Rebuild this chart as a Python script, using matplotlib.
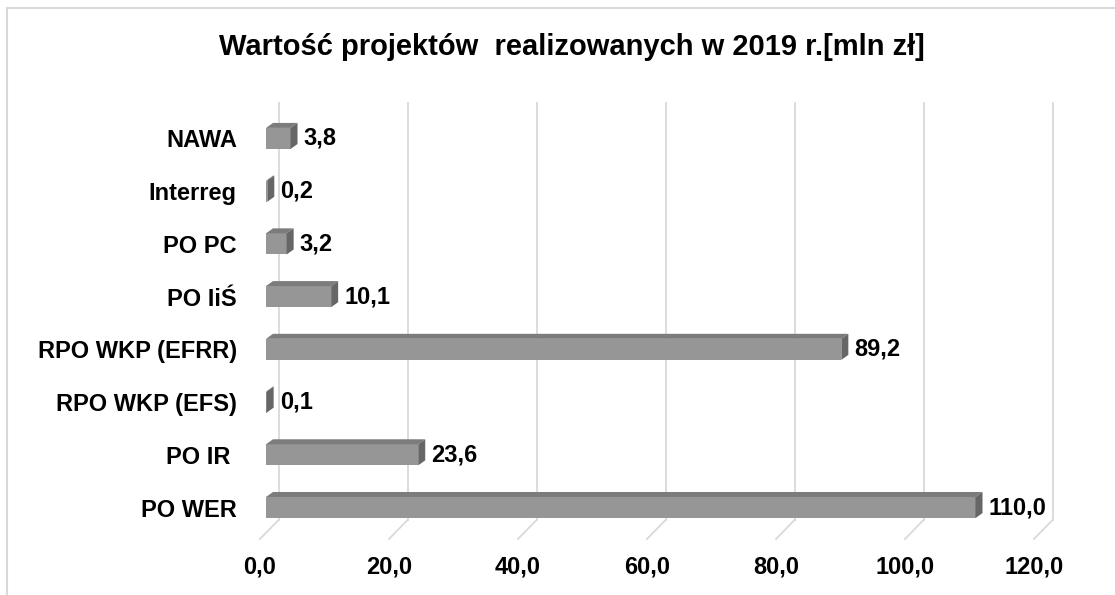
import matplotlib
matplotlib.use("Agg")
from matplotlib import pyplot as plt
from matplotlib.patches import Polygon, Rectangle
import matplotlib.transforms as mtransforms

categories = ["PO WER", "PO IR ", "RPO WKP (EFS)", "RPO WKP (EFRR)",
              "PO IiŚ", "PO PC", "Interreg", "NAWA"]
values = [110.0, 23.6, 0.1, 89.2, 10.1, 3.2, 0.2, 3.8]
xticks = [0, 20, 40, 60, 80, 100, 120]
title = "Wartość projektów  realizowanych w 2019 r.[mln zł]"

plt.rcParams['font.family'] = ['Liberation Sans', 'DejaVu Sans']
W, H = 1115, 595
fig = plt.figure(figsize=(W / 100, H / 100), dpi=100)

# outer chart border
fig.patches.append(Rectangle((7 / W, -0.05), 1.2, 1 - 8 / H + 0.05,
                             transform=fig.transFigure, fill=False,
                             edgecolor='#d9d9d9', lw=1.5))

# front plane of the 3D plot (pixels)
x0, x1 = 266, 1040
y_top, y_bot = 112.1, 533.9
ax = fig.add_axes([x0 / W, 1 - y_bot / H, (x1 - x0) / W, (y_bot - y_top) / H])
ax.set_xlim(0, 120)
ax.set_ylim(-0.5, 7.5)
for s in ax.spines.values():
    s.set_visible(False)
ax.set_xticks([])
ax.set_yticks(range(len(categories)))
ax.set_yticklabels(categories, fontsize=17, fontweight='bold')
ax.tick_params(axis='y', length=0, pad=21)

ppu_x = (x1 - x0) / 120.0
ppu_y = (y_bot - y_top) / 8.0


def off(dx_px, dy_px):
    return mtransforms.ScaledTranslation(dx_px / 100, dy_px / 100, fig.dpi_scale_trans)


xt = ax.get_xaxis_transform()
ax_h = y_bot - y_top
y_back_bot = (y_bot - 520) / ax_h
y_back_top = (y_bot - 103) / ax_h
y_front = (y_bot - 539) / ax_h

# back wall gridlines and floor lines
for t in xticks:
    ax.plot([t, t], [y_back_bot, y_back_top], color='#d9d9d9', lw=1.3,
            transform=xt + off(12.5, 0), clip_on=False, zorder=0)
    line_x = [t + 12.5 / ppu_x, t - 6 / ppu_x]
    ax.plot(line_x, [y_back_bot, y_front], color='#d9d9d9', lw=1.3,
            transform=xt, clip_on=False, zorder=0)
    ax.text(t - 6 / ppu_x, (y_bot - 567) / ax_h, f"{t:.1f}".replace('.', ','),
            transform=xt, ha='center', va='center', fontsize=17,
            fontweight='bold')

# 3D bars
bh = 0.4
ddx = 7 / ppu_x
ddy = 5 / ppu_y
for i, v in enumerate(values):
    yb, yt = i - bh / 2, i + bh / 2
    ax.add_patch(Rectangle((0, yb), v, bh, facecolor='#969696',
                           edgecolor='none', zorder=3))
    ax.add_patch(Polygon([(0, yt), (v, yt), (v + ddx, yt + ddy), (ddx, yt + ddy)],
                         closed=True, facecolor='#7c7c7c', edgecolor='none', zorder=3))
    ax.add_patch(Polygon([(v, yb), (v, yt), (v + ddx, yt + ddy), (v + ddx, yb + ddy)],
                         closed=True, facecolor='#666666', edgecolor='none', zorder=3))
    ax.text(v + 13 / ppu_x, i, f"{v:.1f}".replace('.', ','), ha='left',
            va='center', fontsize=17, fontweight='bold', zorder=4)

fig.text(572 / W, 1 - 47 / H, title, ha='center', va='center',
         fontsize=21, fontweight='bold')

fig.savefig("out.png", dpi=100)
